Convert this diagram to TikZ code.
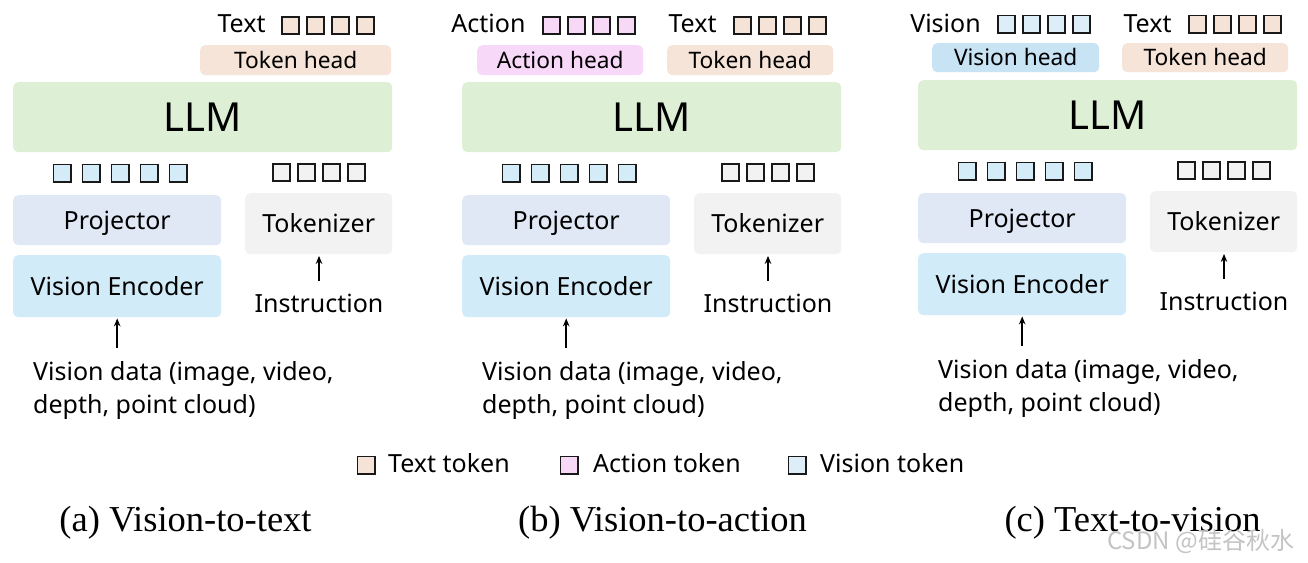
\documentclass[tikz,border=0pt]{standalone}
\usepackage{fontspec}
\setmainfont{Liberation Serif}
\setsansfont{Noto Sans}
\newfontfamily\cjkfont{Noto Sans CJK SC}
\usetikzlibrary{arrows.meta}
\definecolor{cTextTok}{HTML}{F5E3D7}
\definecolor{cActTok}{HTML}{F7D8F7}
\definecolor{cVisTok}{HTML}{D3ECF8}
\definecolor{cVisTokL}{HTML}{DDEEF8}
\definecolor{cGrayTok}{HTML}{F2F2F2}
\definecolor{cTokHead}{HTML}{F6E4D8}
\definecolor{cActHead}{HTML}{F8D8F8}
\definecolor{cVisHead}{HTML}{C8E3F3}
\definecolor{cLLM}{HTML}{DDF0D5}
\definecolor{cProj}{HTML}{E0E8F5}
\definecolor{cVE}{HTML}{D2EBF8}
\definecolor{cTokz}{HTML}{F2F2F2}
\definecolor{cWater}{HTML}{C4C4C4}
\tikzset{
  fsN/.style={font=\sffamily\fontsize{25}{33}\selectfont, text height=17.8pt, text depth=0pt, inner sep=0pt},
  fsH/.style={font=\sffamily\fontsize{22.7}{26}\selectfont, text height=16.2pt, text depth=0pt, inner sep=0pt},
  fsL/.style={font=\sffamily\fontsize{40}{44}\selectfont, text height=28.6pt, text depth=0pt, inner sep=0pt},
  fsD/.style={font=\sffamily\fontsize{25}{33}\selectfont, align=left, inner sep=0pt, anchor=west},
  fsC/.style={font=\rmfamily\fontsize{36.5}{40}\selectfont, text height=24pt, text depth=0pt, inner sep=0pt},
  blk/.style={rounded corners=5pt, inner sep=0pt, anchor=north west, draw=none},
  tok/.style={draw=black!90, line width=1.6pt, minimum size=17.4pt, inner sep=0pt},
  arr/.style={-{Stealth[length=8pt,width=6.5pt]}, line width=1.8pt},
}
\newcommand{\lowerpanel}[1]{%
  \node[blk, fsL, fill=cLLM, minimum width=379pt, minimum height=70pt] (#1llm) at (13,82) {LLM};
  \foreach \i in {0,...,4} {\node[tok, fill=cVisTok] (#1v\i) at (62+29*\i,173) {};}
  \foreach \i in {0,...,3} {\node[tok, fill=cGrayTok] (#1g\i) at (281.5+25*\i,172.5) {};}
  \node[blk, fsN, fill=cProj, minimum width=208pt, minimum height=50pt] (#1proj) at (13,195) {Projector};
  \node[blk, fsN, fill=cVE, minimum width=208pt, minimum height=62pt] (#1ve) at (13,255) {Vision Encoder};
  \node[blk, fsN, fill=cTokz, minimum width=147pt, minimum height=61pt] (#1tkz) at (245,193) {Tokenizer};
  \node[fsN] (#1ins) at (319,304) {Instruction};
  \node[fsD] (#1vd) at (33,390) {Vision data (image, video,\\depth, point cloud)};
  \draw[arr, shorten <=14pt, shorten >=1.5pt] (#1ins.north) -- (#1ins.north |- #1tkz.south);
  \draw[arr, shorten <=13pt, shorten >=1pt] (#1vd.north -| #1ve.south) -- (#1ve.south);
}
\begin{document}
\begin{tikzpicture}[x=1pt,y=-1pt]
\useasboundingbox[fill=white] (0,0) rectangle (1308,562);
% ---------- panel a ----------
\lowerpanel{a}
\node[blk, fsH, fill=cTokHead, minimum width=191pt, minimum height=30pt] (athead) at (200,45) {Token head};
\node[fsN] (atl) at (241.5,24) {Text};
\foreach \i in {0,...,3} {\node[tok, fill=cTextTok] (at\i) at (290.5+25*\i,25.5) {};}
% ---------- panel b ----------
\begin{scope}[shift={(449,0)}]
\lowerpanel{b}
\end{scope}
\node[blk, fsH, fill=cActHead, minimum width=166pt, minimum height=30pt] (bahead) at (477,45) {Action head};
\node[blk, fsH, fill=cTokHead, minimum width=166pt, minimum height=30pt] (bthead) at (667,45) {Token head};
\node[fsN] (bal) at (488.5,24) {Action};
\foreach \i in {0,...,3} {\node[tok, fill=cActTok] (ba\i) at (551.5+25*\i,25.5) {};}
\node[fsN] (btl) at (692.5,24) {Text};
\foreach \i in {0,...,3} {\node[tok, fill=cTextTok] (bt\i) at (742.5+25*\i,25.5) {};}
% ---------- panel c ----------
\begin{scope}[shift={(905,-2)}]
\lowerpanel{c}
\end{scope}
\node[blk, fsH, fill=cVisHead, minimum width=167pt, minimum height=29pt] (cvhead) at (932,43) {Vision head};
\node[blk, fsH, fill=cTokHead, minimum width=166pt, minimum height=29pt] (cthead) at (1122,43) {Token head};
\node[fsN] (cvl) at (945.5,23.5) {Vision};
\foreach \i in {0,...,3} {\node[tok, fill=cVisTokL] (cv\i) at (1006.5+25*\i,24) {};}
\node[fsN] (ctl) at (1147.5,23.5) {Text};
\foreach \i in {0,...,3} {\node[tok, fill=cTextTok] (ct\i) at (1197.5+25*\i,24) {};}
% ---------- legend ----------
\node[tok, fill=cTextTok] (lt) at (366,465) {};
\node[fsN, anchor=west] (ltt) at (388,464) {Text token};
\node[tok, fill=cActTok] (la) at (569,465) {};
\node[fsN, anchor=west] (lat) at (593,464) {Action token};
\node[tok, fill=cVisTokL] (lv) at (797,465) {};
\node[fsN, anchor=west] (lvt) at (820,464) {Vision token};
% ---------- captions ----------
\node[fsC] (capa) at (185.5,519) {(a) Vision-to-text};
\node[fsC] (capb) at (662.5,519) {(b) Vision-to-action};
\node[fsC] (capc) at (1132.5,519) {(c) Text-to-vision};
\node[font=\cjkfont\fontsize{24}{28}\selectfont, text=cWater, anchor=west, inner sep=0pt] (wm) at (1107,541) {CSDN @硅谷秋水};
\end{tikzpicture}
\end{document}
